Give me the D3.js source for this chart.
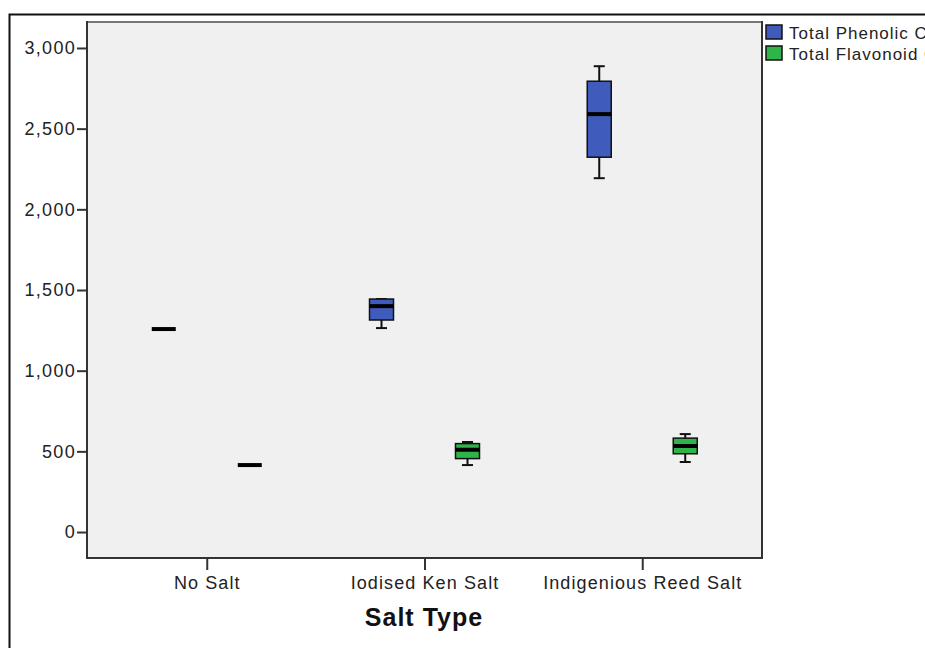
<!DOCTYPE html>
<html>
<head>
<meta charset="utf-8">
<script src="https://cdn.jsdelivr.net/npm/d3@7"></script>
<style>
  body { margin: 0; background: #fff; overflow: hidden; }
  svg { display: block; font-family: "Liberation Sans", Arial, sans-serif; }
</style>
</head>
<body>
<svg id="chart" width="925" height="648"></svg>
<script>
// categories on x, one box per series in each category
const categories = ['No Salt', 'Iodised Ken Salt', 'Indigenious Reed Salt'];
const seriesNames = ['Total Phenolic Content', 'Total Flavonoid Content'];
const seriesColors = ['#3f5cbd', '#2fb44a'];

// [min, q1, median, q3, max] per category
const phenolic = [
  [1258, 1258, 1258, 1258, 1258],
  [1264, 1314, 1400, 1444, 1444],
  [2193, 2323, 2590, 2794, 2887]
];
const flavonoid = [
  [415, 415, 415, 415, 415],
  [415, 455, 510, 548, 558],
  [434, 485, 533, 582, 607]
];

const yTicks = [0, 500, 1000, 1500, 2000, 2500, 3000];

const svg = d3.select('#chart');
const plot = { left: 87, top: 22, right: 762, bottom: 558 };

// outer frame
svg.append('path')
  .attr('d', 'M9.5,648 V14.5 H925')
  .attr('fill', 'none').attr('stroke', '#111').attr('stroke-width', 2);

svg.append('rect')
  .attr('x', plot.left).attr('y', plot.top)
  .attr('width', plot.right - plot.left).attr('height', plot.bottom - plot.top)
  .attr('fill', '#f0f0f0');
svg.append('line')
  .attr('x1', plot.left).attr('x2', plot.right)
  .attr('y1', plot.top).attr('y2', plot.top)
  .attr('stroke', '#777').attr('stroke-width', 2);
svg.append('line')
  .attr('x1', plot.right).attr('x2', plot.right)
  .attr('y1', plot.top - 1).attr('y2', plot.bottom)
  .attr('stroke', '#333').attr('stroke-width', 2);

const y = d3.scaleLinear().domain([-161, 3161]).range([plot.bottom, plot.top]);
const x = d3.scalePoint().domain(categories).range([plot.left, plot.right]).padding(0.55);
const xSub = d3.scalePoint().domain(seriesNames).range([-43, 43]);

const yAxis = svg.append('g')
  .attr('transform', `translate(${plot.left},0)`)
  .call(d3.axisLeft(y).tickValues(yTicks).tickFormat(d3.format(',')).tickSize(10).tickPadding(1));
yAxis.select('.domain').attr('stroke', '#333').attr('stroke-width', 2)
  .attr('d', `M0,${plot.bottom}V${plot.top - 1}`);
yAxis.selectAll('.tick line').attr('stroke', '#333').attr('stroke-width', 2);
yAxis.selectAll('.tick text').attr('font-size', 18).attr('letter-spacing', 1.3).attr('fill', '#222');

const xAxis = svg.append('g')
  .attr('transform', `translate(0,${plot.bottom})`)
  .call(d3.axisBottom(x).tickSize(12).tickPadding(6));
xAxis.select('.domain').attr('stroke', '#333').attr('stroke-width', 2)
  .attr('d', `M${plot.left - 1},0H${plot.right + 1}`);
xAxis.selectAll('.tick line').attr('stroke', '#333').attr('stroke-width', 2);
xAxis.selectAll('.tick text').attr('font-size', 18).attr('letter-spacing', 1.1).attr('fill', '#222');

svg.append('text')
  .attr('x', 424).attr('y', 626)
  .attr('text-anchor', 'middle')
  .attr('font-size', 25).attr('font-weight', 'bold').attr('letter-spacing', 1)
  .attr('fill', '#111')
  .text('Salt Type');

// boxes
const boxW = 24, capW = 11;
[phenolic, flavonoid].forEach((stats, si) => {
  const g = svg.append('g');
  stats.forEach((s, ci) => {
    const cx = x(categories[ci]) + xSub(seriesNames[si]);
    const [mn, q1, md, q3, mx] = s;
    if (mx > mn) {
      g.append('line')
        .attr('x1', cx).attr('x2', cx).attr('y1', y(mx)).attr('y2', y(mn))
        .attr('stroke', '#111').attr('stroke-width', 2);
      [mn, mx].forEach(v => g.append('line')
        .attr('x1', cx - capW / 2).attr('x2', cx + capW / 2)
        .attr('y1', y(v)).attr('y2', y(v))
        .attr('stroke', '#111').attr('stroke-width', 2));
      g.append('rect')
        .attr('x', cx - boxW / 2).attr('y', y(q3))
        .attr('width', boxW).attr('height', y(q1) - y(q3))
        .attr('fill', seriesColors[si]).attr('stroke', '#111').attr('stroke-width', 1.5);
    }
    g.append('line')
      .attr('x1', cx - boxW / 2).attr('x2', cx + boxW / 2)
      .attr('y1', y(md)).attr('y2', y(md))
      .attr('stroke', '#000').attr('stroke-width', 4);
  });
});

// legend
const legend = svg.append('g').attr('transform', 'translate(766,25)');
seriesNames.forEach((name, i) => {
  legend.append('rect')
    .attr('x', 0).attr('y', i * 21)
    .attr('width', 16).attr('height', 14)
    .attr('fill', seriesColors[i]).attr('stroke', '#111').attr('stroke-width', 1.5);
  legend.append('text')
    .attr('x', 23).attr('y', i * 21 + 14)
    .attr('font-size', 17).attr('letter-spacing', 1).attr('fill', '#222')
    .text(name);
});
</script>
</body>
</html>
